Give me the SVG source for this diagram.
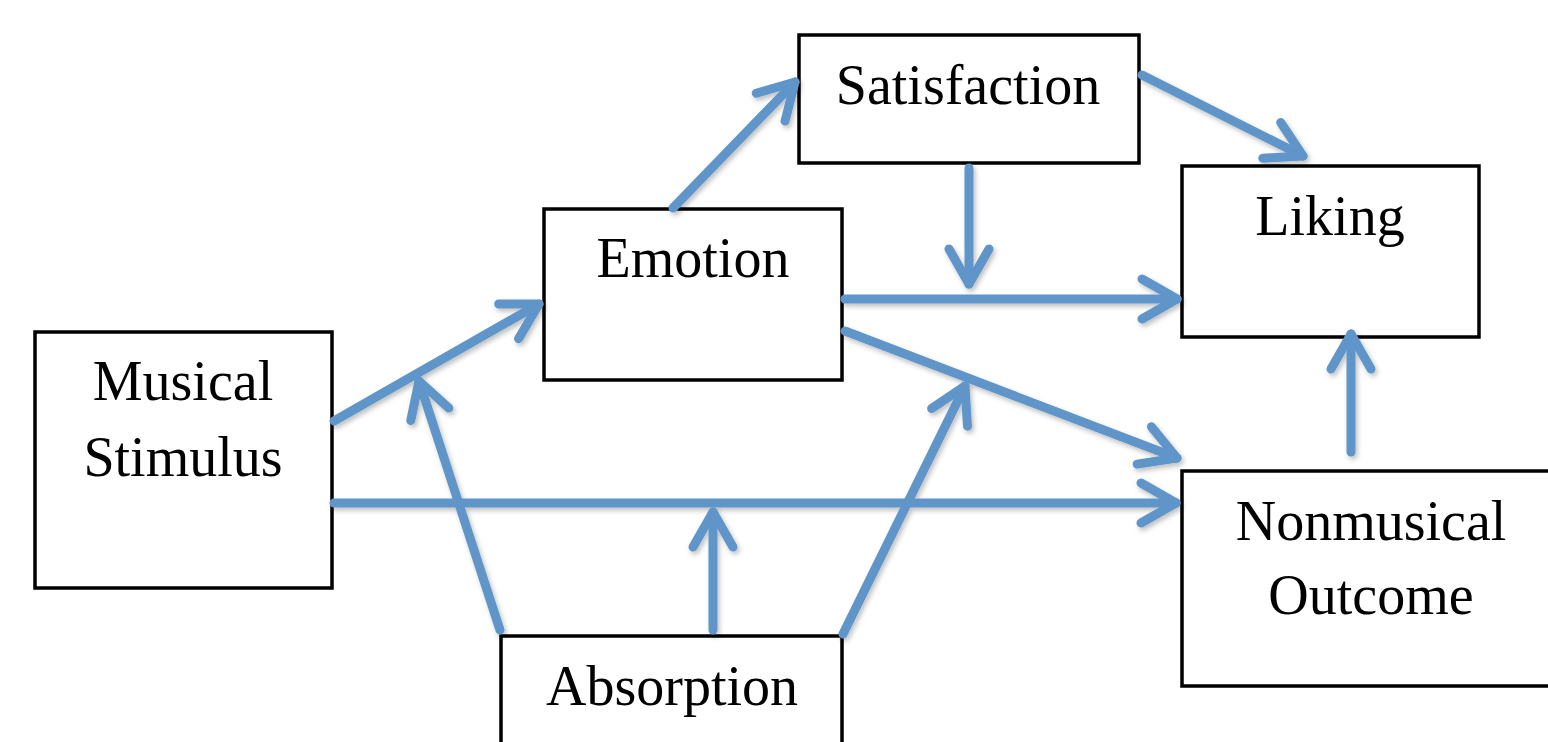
<svg xmlns="http://www.w3.org/2000/svg" width="1548" height="742" viewBox="0 0 1548 742">
<defs>
<style>
.box{fill:#fff;stroke:#000;stroke-width:3.5}
.lbl{font-family:"Liberation Serif","Times New Roman",serif;font-size:56px;fill:#000;text-anchor:middle}
.conn{fill:none;stroke:#5f95c8;stroke-width:9;stroke-linecap:round;stroke-linejoin:round;marker-end:url(#ah)}
</style>
<marker id="ah" markerUnits="userSpaceOnUse" markerWidth="80" markerHeight="80" refX="0" refY="0" orient="auto" overflow="visible">
<path d="M-35,-20 L0,0 L-35,20" fill="none" stroke="#5f95c8" stroke-width="9" stroke-linecap="round" stroke-linejoin="round"/>
</marker>
<filter id="sh" x="-10%" y="-10%" width="130%" height="130%">
<feDropShadow dx="2" dy="3" stdDeviation="2.5" flood-color="#000" flood-opacity="0.25"/>
</filter>
</defs>
<rect width="1548" height="742" fill="#fff"/>
<g id="musical-stimulus">
<rect class="box" x="35" y="332" width="297" height="256"/>
<text class="lbl" x="183" y="400">Musical</text>
<text class="lbl" x="183" y="476">Stimulus</text>
</g>
<g id="emotion">
<rect class="box" x="544" y="209" width="298" height="171"/>
<text class="lbl" x="693" y="277">Emotion</text>
</g>
<g id="satisfaction">
<rect class="box" x="799" y="35" width="340" height="128"/>
<text class="lbl" x="968" y="104">Satisfaction</text>
</g>
<g id="liking">
<rect class="box" x="1182" y="166" width="297" height="171"/>
<text class="lbl" x="1330" y="235">Liking</text>
</g>
<g id="nonmusical-outcome">
<rect class="box" x="1182" y="471" width="390" height="215"/>
<text class="lbl" x="1371" y="540">Nonmusical</text>
<text class="lbl" x="1371" y="614">Outcome</text>
</g>
<g id="absorption">
<rect class="box" x="501" y="636" width="341" height="130"/>
<text class="lbl" x="672" y="705">Absorption</text>
</g>
<g id="connectors" filter="url(#sh)">
<path class="conn" d="M334,421 L539,304"/>
<path class="conn" d="M500,630 L419,381"/>
<path class="conn" d="M334,503 L1176,503"/>
<path class="conn" d="M713,630 L713,512"/>
<path class="conn" d="M843,634 L965,386"/>
<path class="conn" d="M845,331 L1177,458"/>
<path class="conn" d="M845,299 L1177,299"/>
<path class="conn" d="M969,168 L969,284"/>
<path class="conn" d="M673,208 L795,82"/>
<path class="conn" d="M1142,75 L1303,156"/>
<path class="conn" d="M1351,452 L1351,334"/>
</g>
</svg>
